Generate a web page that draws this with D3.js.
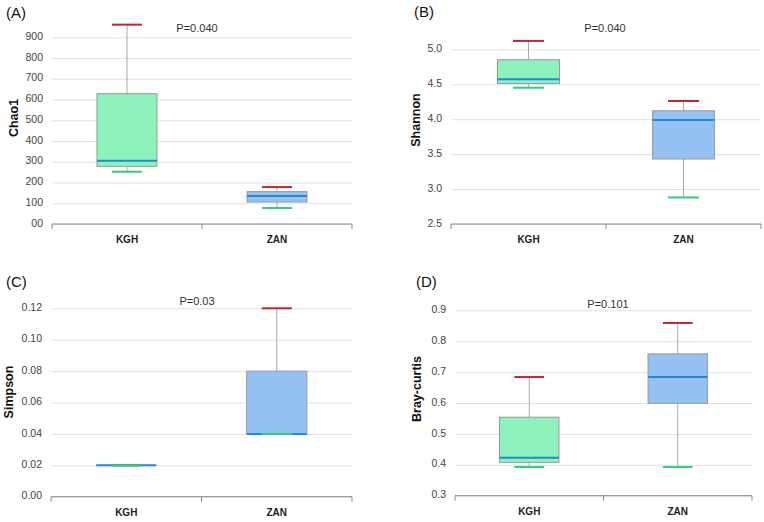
<!DOCTYPE html>
<html>
<head>
<meta charset="utf-8">
<script src="https://cdn.jsdelivr.net/npm/d3@7"></script>
<style>
  body { margin: 0; background: #fff; }
  svg { font-family: "Liberation Sans", Arial, sans-serif; }
</style>
</head>
<body>
<svg id="chart" width="764" height="522"></svg>
<script>
// groups on the x axis
const groups = ['KGH', 'ZAN']

// five number summaries per group: [min, q1, median, q3, max]
const chao1 = [[252, 278, 305, 628, 961], [77, 106, 135, 156, 178]]
const shannon = [[4.45, 4.51, 4.57, 4.85, 5.12], [2.88, 3.43, 3.99, 4.12, 4.26]]
const simpson = [[0.02, 0.02, 0.02, 0.02, 0.02], [0.04, 0.04, 0.04, 0.08, 0.12]]
const braycurtis = [[0.393, 0.408, 0.423, 0.554, 0.684], [0.393, 0.599, 0.684, 0.759, 0.859]]

// y ticks
const chao1Ticks = [0, 100, 200, 300, 400, 500, 600, 700, 800, 900]
const shannonTicks = [2.5, 3.0, 3.5, 4.0, 4.5, 5.0]
const simpsonTicks = [0, 0.02, 0.04, 0.06, 0.08, 0.10, 0.12]
const brayTicks = [0.3, 0.4, 0.5, 0.6, 0.7, 0.8, 0.9]

const pValues = ['P=0.040', 'P=0.040', 'P=0.03', 'P=0.101']

const boxFill = ['#8ef2bd', '#95c2f2']

const svg = d3.select('#chart')

const panels = [
  { tag: '(A)', tagX: 6, tagY: 18, title: 'Chao1', titleX: 18, titleY: 118, stats: chao1, ticks: chao1Ticks,
    fmt: d => d === 0 ? '00' : d3.format('d')(d), x0: 52, x1: 352, y0: 224, y1: 37.3,
    pX: 197, pY: 32, p: pValues[0] },
  { tag: '(B)', tagX: 414, tagY: 17, title: 'Shannon', titleX: 420, titleY: 120, stats: shannon, ticks: shannonTicks,
    fmt: d3.format('.1f'), x0: 451, x1: 761, y0: 224, y1: 49.3,
    pX: 605, pY: 32, p: pValues[1] },
  { tag: '(C)', tagX: 6, tagY: 287, title: 'Simpson', titleX: 13, titleY: 392, stats: simpson, ticks: simpsonTicks,
    fmt: d3.format('.2f'), x0: 51, x1: 352, y0: 496.7, y1: 308.3,
    pX: 197, pY: 305, p: pValues[2] },
  { tag: '(D)', tagX: 416, tagY: 287, title: 'Bray-curtis', titleX: 421, titleY: 389, stats: braycurtis, ticks: brayTicks,
    fmt: d3.format('.1f'), x0: 455, x1: 752, y0: 495.7, y1: 310.3,
    pX: 608, pY: 308, p: pValues[3] }
]

panels.forEach(drawPanel)

function drawPanel (p) {
  const g = svg.append('g')

  const x = d3.scaleBand()
    .domain(groups)
    .range([p.x0, p.x1])

  const y = d3.scaleLinear()
    .domain([p.ticks[0], p.ticks[p.ticks.length - 1]])
    .range([p.y0, p.y1])

  // gridlines + tick labels
  const yAxis = g.append('g')
    .attr('transform', `translate(${p.x0},0)`)
    .call(d3.axisLeft(y).tickValues(p.ticks).tickFormat(p.fmt)
      .tickSize(-(p.x1 - p.x0)).tickPadding(9))
  yAxis.select('.domain').remove()
  yAxis.selectAll('line').attr('stroke', '#e2e2e2')
  yAxis.selectAll('text')
    .attr('fill', '#444')
    .attr('font-size', '10.5px')
    .attr('dy', '0.2em')

  // bottom axis line with ticks at band edges
  g.append('line')
    .attr('x1', p.x0).attr('x2', p.x1)
    .attr('y1', p.y0).attr('y2', p.y0)
    .attr('stroke', '#888')
  const edges = groups.map(d => x(d)).concat([p.x1])
  g.selectAll('.edge')
    .data(edges)
    .enter().append('line')
    .attr('x1', d => d).attr('x2', d => d)
    .attr('y1', p.y0).attr('y2', p.y0 + 5)
    .attr('stroke', '#888')

  // group labels
  const xAxis = g.append('g')
    .attr('transform', `translate(0,${p.y0})`)
    .call(d3.axisBottom(x).tickSize(0).tickPadding(12))
  xAxis.select('.domain').remove()
  xAxis.selectAll('text')
    .attr('fill', '#222')
    .attr('font-size', '10px')
    .attr('font-weight', 'bold')

  const bw = x.bandwidth()
  const boxW = bw * 0.4
  const capW = bw * 0.2

  const box = g.selectAll('.box')
    .data(p.stats)
    .enter().append('g')
    .attr('transform', (d, i) => `translate(${x(groups[i]) + bw / 2},0)`)

  // whisker
  box.append('line')
    .attr('y1', d => y(d[0])).attr('y2', d => y(d[4]))
    .attr('stroke', '#aaa')

  // top cap
  box.append('line')
    .attr('x1', -capW / 2).attr('x2', capW / 2)
    .attr('y1', d => y(d[4])).attr('y2', d => y(d[4]))
    .attr('stroke', '#c0282b').attr('stroke-width', 2)

  box.append('rect')
    .attr('x', -boxW / 2)
    .attr('width', boxW)
    .attr('y', d => y(d[3]))
    .attr('height', d => y(d[1]) - y(d[3]))
    .attr('fill', (d, i) => boxFill[i])
    .attr('stroke', '#999')

  // median
  box.append('line')
    .attr('x1', -boxW / 2).attr('x2', boxW / 2)
    .attr('y1', d => y(d[2])).attr('y2', d => y(d[2]))
    .attr('stroke', '#1f8ad9').attr('stroke-width', 2)

  // bottom cap
  box.append('line')
    .attr('x1', -capW / 2).attr('x2', capW / 2)
    .attr('y1', d => y(d[0])).attr('y2', d => y(d[0]))
    .attr('stroke', '#2fcf7d').attr('stroke-width', 2)

  g.append('text')
    .attr('x', p.tagX).attr('y', p.tagY)
    .attr('font-size', '15px')
    .attr('fill', '#111')
    .text(p.tag)

  g.append('text')
    .attr('transform', `translate(${p.titleX},${p.titleY}) rotate(-90)`)
    .attr('text-anchor', 'middle')
    .attr('font-size', '12.5px')
    .attr('font-weight', 'bold')
    .attr('fill', '#111')
    .text(p.title)

  g.append('text')
    .attr('x', p.pX).attr('y', p.pY)
    .attr('text-anchor', 'middle')
    .attr('font-size', '11px')
    .attr('fill', '#333')
    .text(p.p)
}
</script>
</body>
</html>
